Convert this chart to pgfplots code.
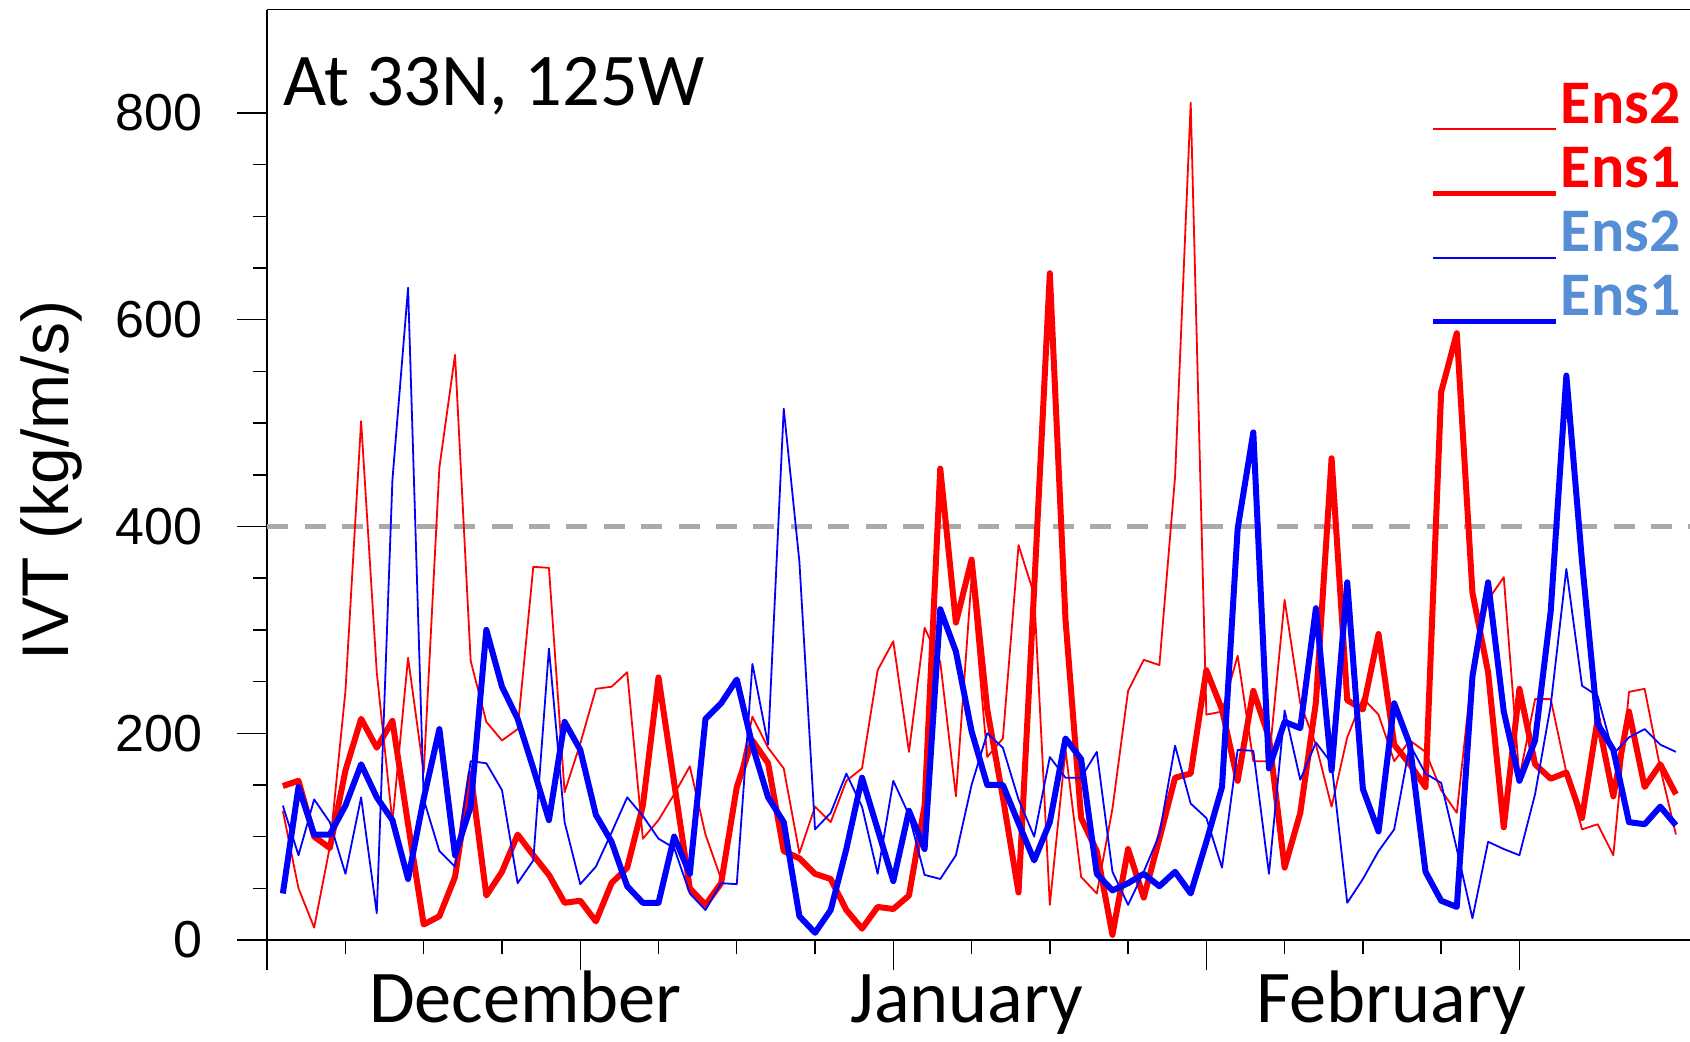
\documentclass[border=0pt]{standalone}
\usepackage{fontspec}
\setmainfont{Carlito}
\newfontfamily\arialf{Liberation Sans}
\usepackage{pgfplots}
\pgfplotsset{compat=1.18}
\definecolor{enstxt}{RGB}{85,142,213}
\definecolor{dashgray}{RGB}{170,170,170}

\begin{document}
\begin{tikzpicture}
\begin{axis}[
  at={(0pt,0pt)}, anchor=south west,
  scale only axis,
  width=355.7pt, height=232.6pt,
  xmin=0, xmax=90.9, ymin=0, ymax=900,
  axis x line*=bottom, axis y line*=left,
  axis line style={line width=0.35pt},
  every tick/.style={black, line width=0.35pt},
  tick align=outside,
  major tick length=7.5pt, minor tick length=3.6pt,
  xtick={0,20,40,60,80}, xticklabels={,,,,},
  minor x tick num=3,
  extra x ticks={16.5,44.7,71.8},
  extra x tick labels={December,January,February},
  extra x tick style={major tick length=0pt,
     xticklabel style={font=\fontsize{18.6}{18.6}\selectfont, anchor=base, inner sep=0pt, yshift=-20.6pt}},
  ytick={0,200,400,600,800},
  minor y tick num=3,
  /pgf/number format/assume math mode=true,
  yticklabel style={font=\arialf\fontsize{13}{13}\selectfont, anchor=east, inner sep=0pt, xshift=-8.6pt},
  ylabel={IVT (kg/m/s)},
  ylabel style={font=\arialf\fontsize{16.5}{16.5}\selectfont, at={(axis description cs:-0.13987,0.494)}, anchor=base, inner sep=0pt},
  clip=true,
]
\addplot[dashgray, line width=1.3pt, dash pattern=on 5.25pt off 4.1pt] coordinates {(0,400) (90.9,400)};

% Ens2 red (thin)
\addplot[red, line width=0.45pt, line join=round] coordinates {
(1,125)(2,50)(3,12)(4,90)(5,241)(6,502)(7,259)(8,114)(9,273)(10,162)
(11,457)(12,566)(13,270)(14,211)(15,193)(16,204)(17,361)(18,360)(19,143)(20,190)
(21,243)(22,245)(23,259)(24,98)(25,116)(26,141)(27,168)(28,102)(29,59)(30,148)
(31,216)(32,186)(33,166)(34,84)(35,129)(36,114)(37,154)(38,166)(39,261)(40,289)
(41,182)(42,302)(43,269)(44,139)(45,350)(46,177)(47,195)(48,382)(49,334)(50,34)
(51,184)(52,61)(53,45)(54,127)(55,241)(56,271)(57,266)(58,448)(59,810)(60,218)
(61,221)(62,275)(63,173)(64,173)(65,329)(66,229)(67,189)(68,129)(69,196)(70,234)
(71,218)(72,173)(73,193)(74,182)(75,145)(76,123)(77,262)(78,329)(79,351)(80,157)
(81,233)(82,233)(83,162)(84,107)(85,112)(86,82)(87,240)(88,243)(89,166)(90,102)
};
% Ens1 red (thick)
\addplot[red, line width=1.5pt, line join=round] coordinates {
(1,149)(2,154)(3,100)(4,89)(5,164)(6,214)(7,186)(8,212)(9,112)(10,15)
(11,23)(12,61)(13,161)(14,43)(15,66)(16,102)(17,82)(18,63)(19,36)(20,38)
(21,18)(22,55)(23,70)(24,130)(25,254)(26,152)(27,50)(28,34)(29,55)(30,148)
(31,193)(32,171)(33,86)(34,79)(35,64)(36,59)(37,29)(38,11)(39,32)(40,30)
(41,43)(42,130)(43,456)(44,307)(45,368)(46,223)(47,138)(48,46)(49,340)(50,645)
(51,310)(52,118)(53,86)(54,5)(55,88)(56,41)(57,98)(58,157)(59,161)(60,261)
(61,223)(62,154)(63,241)(64,196)(65,70)(66,123)(67,230)(68,466)(69,232)(70,223)
(71,296)(72,189)(73,170)(74,148)(75,530)(76,587)(77,336)(78,259)(79,109)(80,243)
(81,170)(82,156)(83,162)(84,118)(85,214)(86,139)(87,221)(88,148)(89,170)(90,141)
};
% Ens2 blue (thin)
\addplot[blue, line width=0.45pt, line join=round] coordinates {
(1,130)(2,82)(3,136)(4,114)(5,64)(6,138)(7,26)(8,445)(9,631)(10,136)
(11,86)(12,71)(13,173)(14,171)(15,145)(16,55)(17,77)(18,282)(19,114)(20,54)
(21,71)(22,104)(23,138)(24,120)(25,98)(26,89)(27,45)(28,29)(29,55)(30,54)
(31,267)(32,189)(33,514)(34,366)(35,107)(36,123)(37,161)(38,129)(39,64)(40,154)
(41,121)(42,63)(43,59)(44,82)(45,150)(46,200)(47,186)(48,136)(49,100)(50,177)
(51,157)(52,157)(53,182)(54,66)(55,34)(56,66)(57,102)(58,188)(59,132)(60,118)
(61,70)(62,184)(63,183)(64,64)(65,222)(66,155)(67,191)(68,171)(69,36)(70,59)
(71,86)(72,107)(73,189)(74,161)(75,152)(76,88)(77,21)(78,95)(79,88)(80,82)
(81,141)(82,227)(83,359)(84,246)(85,236)(86,180)(87,196)(88,204)(89,189)(90,182)
};
% Ens1 blue (thick)
\addplot[blue, line width=1.5pt, line join=round] coordinates {
(1,45)(2,148)(3,102)(4,102)(5,130)(6,170)(7,138)(8,116)(9,59)(10,137)
(11,204)(12,82)(13,129)(14,300)(15,245)(16,214)(17,166)(18,116)(19,211)(20,184)
(21,121)(22,95)(23,52)(24,36)(25,36)(26,100)(27,64)(28,214)(29,229)(30,252)
(31,188)(32,138)(33,114)(34,23)(35,7)(36,29)(37,88)(38,157)(39,107)(40,57)
(41,125)(42,88)(43,320)(44,279)(45,202)(46,150)(47,150)(48,113)(49,77)(50,114)
(51,195)(52,175)(53,64)(54,48)(55,55)(56,64)(57,52)(58,66)(59,45)(60,95)
(61,148)(62,398)(63,491)(64,166)(65,211)(66,205)(67,321)(68,164)(69,346)(70,146)
(71,105)(72,229)(73,189)(74,66)(75,38)(76,32)(77,255)(78,346)(79,221)(80,154)
(81,193)(82,318)(83,546)(84,366)(85,209)(86,184)(87,114)(88,112)(89,129)(90,111)
};
\end{axis}
% top frame line
\draw[line width=0.35pt] (0pt,232.6pt) -- (355.7pt,232.6pt);
% title
\node[anchor=base west, inner sep=0pt, font=\fontsize{18.6}{18.6}\selectfont] at (3.8pt,208.6pt) {At 33N, 125W};
% legend
\draw[red, line width=0.45pt] (291.4pt,202.7pt) -- (322.2pt,202.7pt);
\draw[red, line width=1.3pt] (291.4pt,186.7pt) -- (322.2pt,186.7pt);
\draw[blue, line width=0.45pt] (291.4pt,170.6pt) -- (322.2pt,170.6pt);
\draw[blue, line width=1.3pt] (291.4pt,154.6pt) -- (322.2pt,154.6pt);
\begin{scope}[every node/.style={anchor=base west, inner sep=0pt, font=\bfseries\fontsize{15.5}{15.5}\selectfont}]
\node[text=red] at (323.2pt,204.2pt) {Ens2};
\node[text=red] at (323.2pt,188.2pt) {Ens1};
\node[text=enstxt] at (323.2pt,172.2pt) {Ens2};
\node[text=enstxt] at (323.2pt,156.2pt) {Ens1};
\end{scope}
\pgfresetboundingbox
\path[use as bounding box] (-66.8pt,-25.25pt) rectangle (355.7pt,235pt);
\end{tikzpicture}
\end{document}
